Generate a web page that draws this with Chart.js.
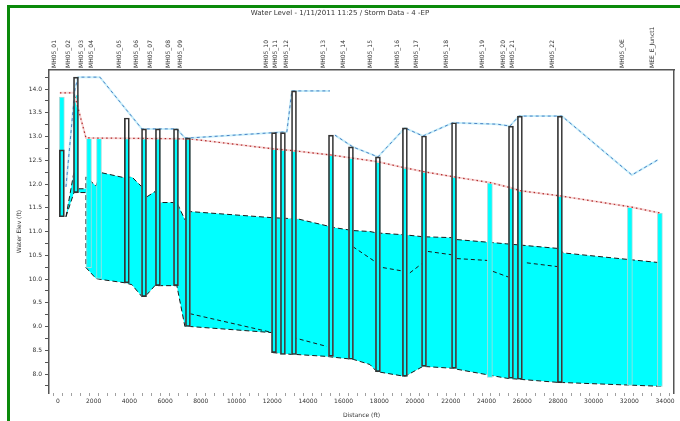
<!DOCTYPE html>
<html>
<head>
<meta charset="utf-8">
<script src="https://cdn.jsdelivr.net/npm/chart.js@4.4.0/dist/chart.umd.min.js"></script>
<style>
html, body { margin: 0; padding: 0; background: #fff; }
#wrap { position: relative; width: 680px; height: 421px; overflow: hidden; }
#wrap canvas { position: absolute; left: 0; top: 0; }
.frame { position: absolute; background: #0b8a0b; }
</style>
</head>
<body>
<div id="wrap">
  <canvas id="profile" width="680" height="421"></canvas>
  <div class="frame" style="left:7px;top:5px;width:673px;height:3px"></div>
  <div class="frame" style="left:7px;top:5px;width:3px;height:416px"></div>
</div>
<script>
// nodes along the profile (distance in ft, elevations in ft)
const nodeNames = ['MH05_01', 'MH05_02', 'MH05_03', 'MH05_04', 'MH05_05', 'MH05_06', 'MH05_07', 'MH05_08',
  'MH05_09', 'MH05_10', 'MH05_11', 'MH05_12', 'MH05_13', 'MH05_14', 'MH05_15', 'MH05_16', 'MH05_17',
  'MH05_18', 'MH05_19', 'MH05_20', 'MH05_21', 'MH05_22', 'MH05_OE', 'MEE_E_Junct1'];
const nodeDist = [220, 1010, 1740, 2300, 3860, 4820, 5600, 6610, 7280, 12100, 12600, 13220, 15290, 16410,
  17920, 19430, 20500, 22180, 24190, 25370, 25870, 28110, 32030, 33710];
const nodeGround = [12.72, 14.25, 14.25, 14.25, 13.39, 13.16, 13.16, 13.16, 12.97, 13.08, 13.08, 13.96,
  13.03, 12.78, 12.57, 13.18, 13.01, 13.29, 13.26, 13.22, 13.43, 13.43, 12.19, 12.51];
const nodeInvert = [11.31, 11.82, 10.24, 10.01, 9.92, 9.63, 9.86, 9.86, 9.00, 8.45, 8.41, 8.41, 8.37, 8.31,
  8.05, 7.95, 8.16, 8.12, 7.93, 7.91, 7.89, 7.82, 7.76, 7.74];
const nodeHgl = [13.83, 13.87, 12.97, 12.97, 12.97, 12.97, 12.97, 12.97, 12.97, 12.74, 12.72, 12.70, 12.61,
  12.55, 12.47, 12.34, 12.26, 12.15, 12.03, 11.92, 11.86, 11.75, 11.52, 11.39];
const nodeWall = [1, 1, 0, 0, 1, 1, 1, 1, 1, 1, 1, 1, 1, 1, 1, 1, 1, 1, 0, 1, 1, 1, 0, 0];

// ground surface
const groundX = [450, 950, 1120, 2350, 4700, 6660, 7110, 7390, 12040, 12820, 13100, 15230, 15240, 15510,
  16520, 17920, 19430, 20440, 22120, 24580, 25310, 25820, 28220, 32140, 33600];
const groundY = [11.94, 13.98, 14.25, 14.25, 13.16, 13.16, 12.97, 12.97, 13.08, 13.10, 13.96, 13.96, null,
  13.03, 12.78, 12.57, 13.18, 13.01, 13.29, 13.26, 13.22, 13.43, 13.43, 12.19, 12.51];

// hydraulic grade line
const hglX = [110, 900, 1570, 7390, 12040, 13220, 15290, 16410, 17920, 19430, 20500, 22180, 24190, 25370,
  25870, 28110, 32030, 33710];
const hglY = [13.92, 13.92, 12.97, 12.95, 12.74, 12.70, 12.61, 12.55, 12.47, 12.34, 12.26, 12.15, 12.03,
  11.92, 11.86, 11.75, 11.52, 11.39];

// conduits: top of water area and invert
const linkX = [450, 900, 1120, 1570, 1570, 2130, 2410, 3750, 4140, 4700, 4980, 5430, 5710, 6660, 7110,
  7390, 12040, 12040, 13160, 13380, 15060, 15510, 16520, 17470, 17860, 19430, 20440, 22120, 22340, 25140,
  28110, 28280, 33820];
const linkTop = [11.31, 12.26, 11.90, 11.90, 12.15, 11.96, 12.24, 12.13, 12.15, 11.94, 11.73, 11.84, 11.61,
  11.61, 11.25, 11.42, 11.29, 11.29, 11.27, 11.27, 11.12, 11.08, 11.02, 11.00, 10.97, 10.93, 10.89, 10.87,
  10.83, 10.74, 10.64, 10.55, 10.34];
const linkBottom = [11.31, 11.82, 11.82, 11.82, 10.24, 10.01, 9.99, 9.92, 9.88, 9.63, 9.67, 9.86, 9.86,
  9.86, 9.00, 9.00, 8.87, 8.45, 8.41, 8.41, 8.37, 8.35, 8.31, 8.20, 8.05, 7.95, 8.16, 8.12, 8.10, 7.91,
  7.82, 7.82, 7.74];

// crowns of the lower pipes
const crownX = [7390, 12040, 12100, 13160, 15060, 15100, 16520, 17860, 17900, 18200, 19430, 19500, 19710,
  20440, 20500, 20720, 22060, 22100, 22340, 24080, 24100, 24360, 25310, 25400, 26260, 28000];
const crownY = [9.27, 8.87, null, 8.77, 8.58, null, 10.68, 10.34, null, 10.24, 10.16, null, 10.13, 10.34,
  null, 10.58, 10.51, null, 10.43, 10.39, null, 10.16, 10.03, null, 10.34, 10.26];

const xLabelValues = [0, 2000, 4000, 6000, 8000, 10000, 12000, 14000, 16000, 18000, 20000, 22000, 24000,
  26000, 28000, 30000, 32000, 34000];
const yLabelValues = [8.0, 8.5, 9.0, 9.5, 10.0, 10.5, 11.0, 11.5, 12.0, 12.5, 13.0, 13.5, 14.0];

const xMinor = [];
for (let i = 0; i <= 68; i++) xMinor.push(i * 500);
const yMinor = [];
for (let i = 31; i <= 57; i++) yMinor.push(i / 4);

const pts = (xs, ys) => xs.map((x, i) => ({ x: x, y: ys[i] }));
const fontFam = '"DejaVu Sans", sans-serif';
const small = { size: 6, family: fontFam };

const waterBars = nodeDist.map((x, i) => ({ x: x, y: [nodeInvert[i], nodeHgl[i]] }));
const wallBars = nodeDist.map((x, i) => nodeWall[i] ? { x: x, y: [nodeInvert[i], nodeGround[i]] } : null)
  .filter(Boolean);

const ctx = document.getElementById('profile').getContext('2d');
const profileChart = new Chart(ctx, {
  type: 'line',
  data: {
    datasets: [
      { label: 'Conduit', data: pts(linkX, linkTop), borderColor: '#1a1a1a', borderWidth: 1,
        borderDash: [5, 3], backgroundColor: '#00ffff', fill: '+1', pointRadius: 0, order: 60 },
      { label: 'Invert', data: pts(linkX, linkBottom), borderColor: '#1a1a1a', borderWidth: 1,
        borderDash: [5, 3], fill: false, pointRadius: 0, order: 59 },
      { label: 'Crown', data: pts(crownX, crownY), borderColor: '#1a1a1a', borderWidth: 1,
        borderDash: [4, 3], fill: false, pointRadius: 0, spanGaps: false, order: 50 },
      { label: 'Node water', type: 'bar', data: waterBars, backgroundColor: '#00ffff',
        borderColor: '#a6dcdc', borderWidth: 1, borderSkipped: false, barThickness: 5, grouped: false,
        order: 40 },
      { label: 'HGL halo', data: pts(hglX, hglY), borderColor: '#f6d4d4', borderWidth: 2, fill: false,
        pointRadius: 0, order: 31 },
      { label: 'HGL', data: pts(hglX, hglY), borderColor: '#b02828', borderWidth: 1.2,
        borderDash: [1.5, 3], fill: false, pointRadius: 0, order: 30 },
      { label: 'Ground halo', data: pts(groundX, groundY), borderColor: '#c8eefa', borderWidth: 2,
        fill: false, pointRadius: 0, spanGaps: false, order: 21 },
      { label: 'Ground', data: pts(groundX, groundY), borderColor: '#4a82c4', borderWidth: 1,
        borderDash: [3, 3], fill: false, pointRadius: 0, spanGaps: false, order: 20 },
      { label: 'Node', type: 'bar', data: wallBars, backgroundColor: 'rgba(0,0,0,0)',
        borderColor: '#333', borderWidth: 1, borderSkipped: false, barThickness: 5, grouped: false,
        order: 10 }
    ]
  },
  options: {
    responsive: false,
    animation: false,
    devicePixelRatio: 1,
    layout: { padding: 0 },
    elements: { line: { tension: 0 } },
    plugins: {
      legend: { display: false },
      tooltip: { enabled: false },
      title: {
        display: true,
        text: 'Water Level - 1/11/2011 11:25 / Storm Data - 4 -EP',
        color: '#333',
        font: { size: 7, family: fontFam, weight: 'normal' },
        padding: { top: 9, bottom: 0 }
      }
    },
    scales: {
      x: {
        type: 'linear', axis: 'x', position: 'bottom', min: -500, max: 34500, offset: false,
        afterBuildTicks: s => { s.ticks = xMinor.map(v => ({ value: v })); },
        afterFit: s => { s.height = 28; },
        ticks: {
          autoSkip: false, maxRotation: 0, minRotation: 0, padding: 2, color: '#333', font: small,
          callback: v => xLabelValues.includes(v) ? String(v) : ''
        },
        grid: { drawOnChartArea: false, drawTicks: true, tickLength: 3, color: '#a0a0a0' },
        border: { display: false },
        title: { display: true, text: 'Distance (ft)', color: '#333', font: small,
          padding: { top: 2, bottom: 2 } }
      },
      xTop: {
        type: 'linear', axis: 'x', position: 'top', min: -500, max: 34500, offset: false,
        afterBuildTicks: s => { s.ticks = nodeDist.map(v => ({ value: v })); },
        afterFit: s => {
          const t = s.chart.titleBlock;
          s.height = 70 - (t ? t.height : 0);
        },
        ticks: {
          autoSkip: false, maxRotation: 90, minRotation: 90, padding: 2, color: '#333', font: small,
          callback: (v, i) => nodeNames[i]
        },
        grid: { drawOnChartArea: false, drawTicks: false },
        border: { display: true, color: '#555', width: 1.5 }
      },
      y: {
        type: 'linear', axis: 'y', position: 'left', min: 7.6, max: 14.4,
        afterBuildTicks: s => { s.ticks = yMinor.map(v => ({ value: v })); },
        afterFit: s => { s.width = 49; },
        ticks: {
          autoSkip: false, padding: 3, color: '#333', font: small,
          callback: v => yLabelValues.some(l => Math.abs(l - v) < 1e-6) ? v.toFixed(1) : ''
        },
        grid: { drawOnChartArea: false, drawTicks: true, tickLength: 4, color: '#555' },
        border: { display: true, color: '#555', width: 1.5 },
        title: { display: true, text: 'Water Elev (ft)', color: '#333', font: small,
          padding: { top: 16, bottom: 0 } }
      },
      y2: {
        type: 'linear', axis: 'y', position: 'right', min: 7.6, max: 14.4,
        afterFit: s => { s.width = 6; },
        ticks: { display: false },
        grid: { drawOnChartArea: false, drawTicks: false },
        border: { display: true, color: '#555', width: 1.5 }
      }
    }
  }
});
</script>
</body>
</html>
